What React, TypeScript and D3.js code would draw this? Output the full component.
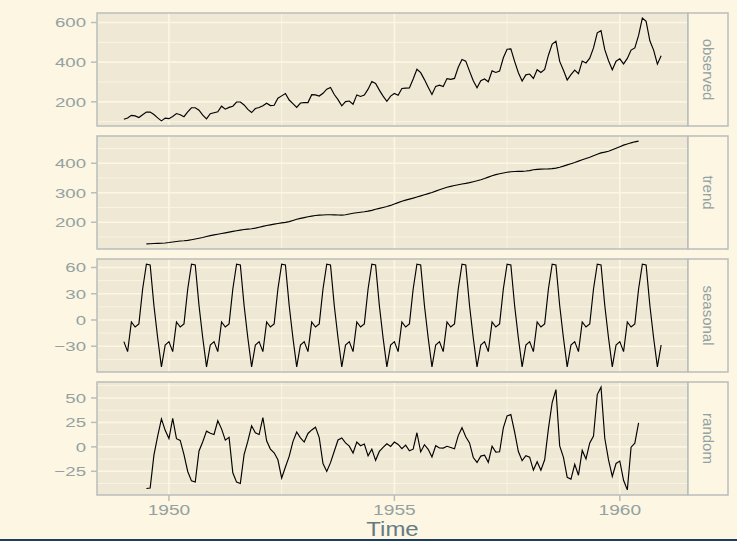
import React from "react";
import * as d3 from "d3";

const startYear = 1949;
const freq = 12;

const observed = [
  112, 118, 132, 129, 121, 135, 148, 148, 136, 119, 104, 118,
  115, 126, 141, 135, 125, 149, 170, 170, 158, 133, 114, 140,
  145, 150, 178, 163, 172, 178, 199, 199, 184, 162, 146, 166,
  171, 180, 193, 181, 183, 218, 230, 242, 209, 191, 172, 194,
  196, 196, 236, 235, 229, 243, 264, 272, 237, 211, 180, 201,
  204, 188, 235, 227, 234, 264, 302, 293, 259, 229, 203, 229,
  242, 233, 267, 269, 270, 315, 364, 347, 312, 274, 237, 278,
  284, 277, 317, 313, 318, 374, 413, 405, 355, 306, 271, 306,
  315, 301, 356, 348, 355, 422, 465, 467, 404, 347, 305, 336,
  340, 318, 362, 348, 363, 435, 491, 505, 404, 359, 310, 337,
  360, 342, 406, 396, 420, 472, 548, 559, 463, 407, 362, 405,
  417, 391, 419, 461, 472, 535, 622, 606, 508, 461, 390, 432,
];

// trend starts July 1949 (offset 6)
const trendOffset = 6;
const trend = [
  126.79, 127.25, 127.96, 128.58, 129.0, 129.75,
  131.25, 133.08, 134.92, 136.42, 137.42, 138.75, 140.92, 143.17, 145.71, 148.42, 151.54, 154.71,
  157.13, 159.54, 161.83, 164.13, 166.67, 169.08, 171.25, 173.58, 175.46, 176.83, 178.04, 180.17,
  183.13, 186.21, 189.04, 191.29, 193.58, 195.83, 198.04, 199.75, 202.21, 206.25, 210.42, 213.38,
  215.83, 218.5, 220.92, 222.92, 224.08, 224.71, 225.33, 225.33, 224.96, 224.58, 224.46, 225.54,
  228.0, 230.46, 232.25, 233.92, 235.63, 237.75, 240.5, 243.96, 247.17, 250.25, 253.5, 257.13,
  261.83, 266.67, 271.13, 275.21, 278.5, 281.96, 285.75, 289.33, 293.25, 297.17, 301.0, 305.46,
  309.96, 314.42, 318.63, 321.75, 324.5, 327.08, 329.54, 331.83, 334.46, 337.54, 340.54, 344.08,
  348.25, 353.0, 357.63, 361.38, 364.5, 367.17, 369.46, 371.21, 372.17, 372.42, 372.75, 373.63,
  375.25, 377.92, 379.5, 380.0, 380.71, 380.96, 381.83, 383.67, 386.5, 390.33, 394.71, 398.63,
  402.54, 407.17, 411.88, 416.33, 420.5, 425.5, 430.71, 435.13, 437.71, 440.96, 445.83, 450.63,
  456.33, 461.38, 465.21, 469.33, 472.75, 475.04,
];

const seasonal = [
  -24.75, -36.19, -2.24, -8.04, -4.51, 35.4, 63.83, 62.82, 16.52, -20.64, -53.59, -28.62,
  -24.75, -36.19, -2.24, -8.04, -4.51, 35.4, 63.83, 62.82, 16.52, -20.64, -53.59, -28.62,
  -24.75, -36.19, -2.24, -8.04, -4.51, 35.4, 63.83, 62.82, 16.52, -20.64, -53.59, -28.62,
  -24.75, -36.19, -2.24, -8.04, -4.51, 35.4, 63.83, 62.82, 16.52, -20.64, -53.59, -28.62,
  -24.75, -36.19, -2.24, -8.04, -4.51, 35.4, 63.83, 62.82, 16.52, -20.64, -53.59, -28.62,
  -24.75, -36.19, -2.24, -8.04, -4.51, 35.4, 63.83, 62.82, 16.52, -20.64, -53.59, -28.62,
  -24.75, -36.19, -2.24, -8.04, -4.51, 35.4, 63.83, 62.82, 16.52, -20.64, -53.59, -28.62,
  -24.75, -36.19, -2.24, -8.04, -4.51, 35.4, 63.83, 62.82, 16.52, -20.64, -53.59, -28.62,
  -24.75, -36.19, -2.24, -8.04, -4.51, 35.4, 63.83, 62.82, 16.52, -20.64, -53.59, -28.62,
  -24.75, -36.19, -2.24, -8.04, -4.51, 35.4, 63.83, 62.82, 16.52, -20.64, -53.59, -28.62,
  -24.75, -36.19, -2.24, -8.04, -4.51, 35.4, 63.83, 62.82, 16.52, -20.64, -53.59, -28.62,
  -24.75, -36.19, -2.24, -8.04, -4.51, 35.4, 63.83, 62.82, 16.52, -20.64, -53.59, -28.62,
];

const randomOffset = 6;
const random = [
  -42.62, -42.07, -8.48, 11.06, 28.59, 16.87,
  8.5, 29.11, 8.32, 6.62, -7.91, -25.15, -34.75, -35.99, -4.23, 5.23, 16.05, 13.91,
  12.62, 26.65, 18.41, 6.91, 9.84, -26.49, -36.08, -37.41, -7.98, 5.81, 21.55, 14.45,
  12.62, 29.98, 6.2, -2.26, -6.08, -13.24, -31.87, -20.57, -9.73, 5.39, 15.18, 9.25,
  4.92, 13.69, 17.32, 20.12, 9.42, -17.11, -25.16, -16.16, -4.48, 7.06, 9.14, 4.08,
  0.75, -6.27, 4.99, 1.12, 2.88, -9.15, -2.33, -13.78, -4.69, -0.61, 3.09, 0.5,
  4.92, 2.52, -1.88, 1.83, -3.99, -2.36, 14.42, -5.16, 2.23, -2.52, -10.41, 1.16,
  -1.21, -1.23, 0.62, -0.71, -1.99, 11.51, 19.63, 10.34, 4.02, -10.9, -15.95, -9.46,
  -8.5, -15.81, 0.62, -5.34, -4.99, 19.43, 31.71, 32.97, 15.31, -4.77, -14.16, -9.01,
  -10.5, -23.73, -15.26, -23.96, -13.2, 18.64, 45.34, 58.51, 0.98, -10.69, -31.12, -33.01,
  -17.79, -28.98, -3.63, -12.3, 4.01, 11.1, 53.46, 61.05, 8.77, -13.32, -30.24, -17.01,
  -14.58, -34.19, -43.97, -0.3, 3.76, 24.56,
];

const panelNames = ["observed", "trend", "seasonal", "random"];
const xTicks = [1950, 1955, 1960];
const xMinor = [1952.5, 1957.5];
const yTicks = [
  [200, 400, 600],
  [200, 300, 400],
  [-30, 0, 30, 60],
  [-25, 0, 25, 50],
];
const yMinor = [
  [100, 300, 500],
  [150, 250, 350, 450],
  [-45, -15, 15, 45],
  [-37.5, -12.5, 12.5, 37.5, 62.5],
];

const W = 737;
const H = 541;
const L = 97;
const R = 688;
const stripR = 728;
const top0 = 13;
const step = 123;
const ph = 113;

const C = {
  bg: "#FDF6E3",
  panel: "#EEE8D5",
  grid: "#FDF6E3",
  border: "#B9BDBC",
  text: "#93A1A1",
  title: "#657B83",
};

const font = "'Liberation Sans', Arial, Helvetica, sans-serif";

function fmt(v: number) {
  return v < 0 ? "\u2212" + Math.abs(v) : String(v);
}

export default function App() {
  const series = [
    observed.map((v, i) => [startYear + i / freq, v]),
    trend.map((v, i) => [startYear + (i + trendOffset) / freq, v]),
    seasonal.map((v, i) => [startYear + i / freq, v]),
    random.map((v, i) => [startYear + (i + randomOffset) / freq, v]),
  ] as [number, number][][];

  const t0 = startYear;
  const t1 = startYear + (observed.length - 1) / freq;
  const xpad = (t1 - t0) * 0.05;
  const x = d3.scaleLinear().domain([t0 - xpad, t1 + xpad]).range([L, R]);

  return (
    <svg
      width={W}
      height={H}
      style={{ position: "fixed", left: 0, top: 0 }}
      fontFamily={font}
    >
      <rect x={0} y={0} width={W} height={H} fill={C.bg} />
      {series.map((data, p) => {
        const top = top0 + p * step;
        const [lo, hi] = d3.extent(data, (d) => d[1]) as [number, number];
        const pad = (hi - lo) * 0.05;
        const y = d3.scaleLinear().domain([lo - pad, hi + pad]).range([top + ph, top]);
        const [d0, d1] = y.domain();
        const line = d3
          .line<[number, number]>()
          .x((d) => x(d[0]))
          .y((d) => y(d[1]));
        const minors = yMinor[p].filter((v) => v >= d0 && v <= d1);
        return (
          <g key={p}>
            <rect x={L} y={top} width={R - L} height={ph} fill={C.panel} />
            {minors.map((v) => (
              <line key={"ym" + v} x1={L} x2={R} y1={y(v)} y2={y(v)} stroke={C.grid} strokeWidth={0.8} />
            ))}
            {xMinor.map((v) => (
              <line key={"xm" + v} x1={x(v)} x2={x(v)} y1={top} y2={top + ph} stroke={C.grid} strokeWidth={0.8} />
            ))}
            {yTicks[p].map((v) => (
              <line key={"yM" + v} x1={L} x2={R} y1={y(v)} y2={y(v)} stroke={C.grid} strokeWidth={1.6} />
            ))}
            {xTicks.map((v) => (
              <line key={"xM" + v} x1={x(v)} x2={x(v)} y1={top} y2={top + ph} stroke={C.grid} strokeWidth={1.6} />
            ))}
            <path d={line(data) || ""} fill="none" stroke="#000" strokeWidth={1.15} />
            <rect x={L} y={top} width={R - L} height={ph} fill="none" stroke={C.border} strokeWidth={1.5} />
            <rect x={R} y={top} width={stripR - R} height={ph} fill={C.bg} stroke={C.border} strokeWidth={1.5} />
            <text
              transform={`translate(${(R + stripR) / 2},${top + ph / 2}) rotate(90)`}
              textAnchor="middle"
              dy="0.35em"
              fontSize={15}
              fill={C.text}
            >
              {panelNames[p]}
            </text>
            {yTicks[p].map((v) => (
              <g key={"yt" + v}>
                <line x1={L - 6} x2={L} y1={y(v)} y2={y(v)} stroke={C.border} strokeWidth={1.5} />
                <text
                  transform={`translate(${L - 11},${y(v)}) scale(1.38,1)`}
                  textAnchor="end"
                  dy="0.36em"
                  fontSize={13.5}
                  fill={C.text}
                >
                  {fmt(v)}
                </text>
              </g>
            ))}
          </g>
        );
      })}
      {xTicks.map((v) => (
        <g key={"xt" + v}>
          <line x1={x(v)} x2={x(v)} y1={top0 + 3 * step + ph} y2={top0 + 3 * step + ph + 6} stroke={C.border} strokeWidth={1.5} />
          <text
            transform={`translate(${x(v)},${515}) scale(1.32,1)`}
            textAnchor="middle"
            fontSize={14.5}
            fill={C.text}
          >
            {v}
          </text>
        </g>
      ))}
      <text
        transform={`translate(${(L + R) / 2},${536}) scale(1.2,1)`}
        textAnchor="middle"
        fontSize={20}
        fill={C.title}
      >
        Time
      </text>
      <rect x={0} y={539} width={W} height={2} fill="#1F3D5C" />
    </svg>
  );
}
